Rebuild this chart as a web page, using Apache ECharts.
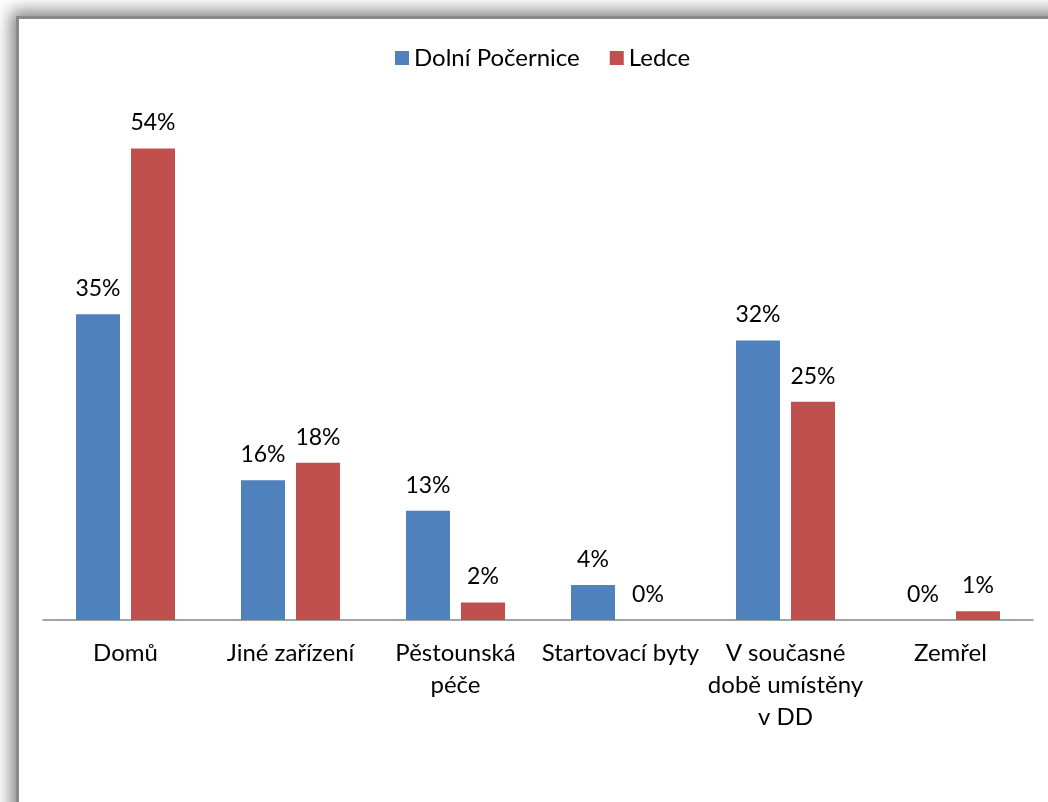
<!DOCTYPE html>
<html>
<head>
<meta charset="utf-8">
<script src="https://cdn.jsdelivr.net/npm/echarts@6/dist/echarts.min.js"></script>
<style>
  html, body { margin: 0; padding: 0; background: #fff; }
  .frame {
    position: absolute; left: 16px; top: 16px; width: 1100px; height: 900px;
    border-left: 3px solid #8a8a8a; border-top: 3px solid #8a8a8a;
    box-shadow: -5px -5px 16px rgba(0,0,0,0.5);
    background: #fff;
  }
  #chart { position: absolute; left: 0; top: 0; width: 1048px; height: 802px; }
</style>
</head>
<body>
<div class="frame"></div>
<div id="chart"></div>
<script>
  const categories = ['Domů', 'Jiné zařízení', 'Pěstounská\npéče', 'Startovací byty', 'V současné\ndobě umístěny\nv DD', 'Zemřel']
  const seriesNames = ['Dolní Počernice', 'Ledce']
  const dolniPocernice = [35, 16, 12.5, 4, 32, 0]
  const ledce = [54, 18, 2, 0, 25, 1]

  const font = 'Lato, "Noto Sans", sans-serif'
  const myChart = echarts.init(document.getElementById('chart'))

  const label = {
    show: true,
    position: 'top',
    distance: 14,
    color: '#000',
    fontFamily: font,
    fontSize: 23,
    formatter(p) {
      return Math.round(p.value) + '%'
    }
  }

  myChart.setOption({
    animation: false,
    textStyle: {fontFamily: font},
    legend: {
      top: 41,
      left: 390,
      itemWidth: 14,
      itemHeight: 14,
      itemGap: 30,
      icon: 'rect',
      textStyle: {fontSize: 24, color: '#000', fontFamily: font},
      data: seriesNames
    },
    grid: {left: 43, right: 15, top: 96, bottom: 182},
    xAxis: {
      type: 'category',
      data: categories,
      axisTick: {show: false},
      axisLine: {lineStyle: {color: '#868686', width: 1.5}},
      axisLabel: {
        interval: 0,
        margin: 17,
        color: '#000',
        fontFamily: font,
        fontSize: 24,
        lineHeight: 32
      }
    },
    yAxis: {
      type: 'value',
      min: 0,
      max: 60,
      show: false,
      splitLine: {show: false}
    },
    series: [
      {
        name: seriesNames[0],
        type: 'bar',
        barWidth: 44,
        barGap: '25%',
        itemStyle: {color: '#4F81BD'},
        label: label,
        data: dolniPocernice
      },
      {
        name: seriesNames[1],
        type: 'bar',
        barWidth: 44,
        barGap: '25%',
        itemStyle: {color: '#C0504D'},
        label: label,
        data: ledce
      }
    ]
  })
</script>
</body>
</html>
